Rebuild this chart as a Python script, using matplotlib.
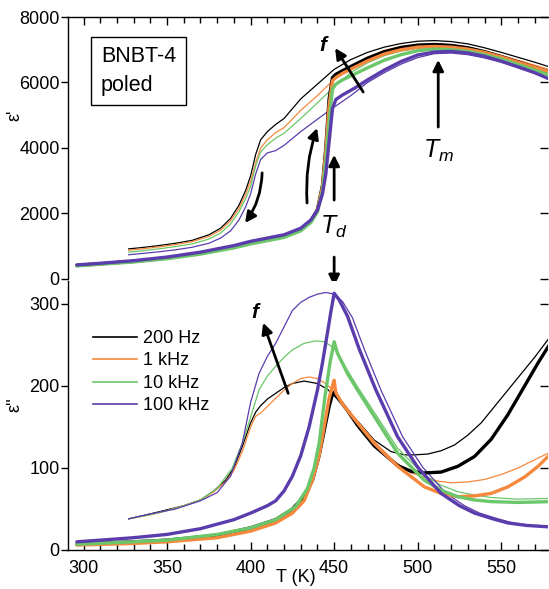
import numpy as np
import matplotlib.pyplot as plt
from matplotlib.ticker import MultipleLocator

plt.rcParams['font.family'] = ['Liberation Sans', 'DejaVu Sans']
plt.rcParams['mathtext.fontset'] = 'custom'
plt.rcParams['mathtext.it'] = 'Liberation Sans:italic'
plt.rcParams['mathtext.rm'] = 'Liberation Sans'

labels = ['200 Hz', '1 kHz', '10 kHz', '100 kHz']
colors = ['#000000', '#f5883c', '#6cc66a', '#5b3cac']

# ---- eps' : heating (thick) ----
t_heat1 = [296, 310, 330, 350, 370, 390, 400, 410, 420, 430, 436, 440, 443, 445, 447,
           449, 451, 455, 462, 470, 480, 490, 500, 510, 520, 530, 540, 550, 560, 570, 580]
e1_heat_100k = [430, 480, 560, 670, 820, 1020, 1150, 1250, 1350, 1550, 1800, 2100, 2600, 3200, 4200,
                5200, 5480, 5620, 5820, 6080, 6380, 6640, 6840, 6930, 6950, 6900, 6800, 6650, 6480, 6300, 6080]
e1_heat_10k = [400, 450, 520, 620, 760, 950, 1070, 1170, 1270, 1470, 1720, 2050, 2700, 3600, 4800,
               5800, 5950, 6080, 6250, 6450, 6680, 6850, 6970, 7020, 7000, 6950, 6850, 6720, 6550, 6380, 6200]
e1_heat_1k = [410, 460, 535, 640, 785, 980, 1100, 1200, 1300, 1500, 1750, 2100, 2800, 3900, 5300,
              6050, 6150, 6280, 6460, 6660, 6870, 7000, 7080, 7100, 7080, 7020, 6920, 6780, 6620, 6460, 6300]
e1_heat_200 = [415, 465, 540, 645, 790, 985, 1110, 1210, 1310, 1510, 1760, 2120, 2850, 4000, 5500,
               6150, 6250, 6360, 6540, 6740, 6940, 7070, 7140, 7160, 7130, 7060, 6940, 6790, 6630, 6460, 6300]

# ---- eps' : cooling (thin) ----
t_cool1 = [327, 335, 345, 355, 365, 375, 382, 388, 393, 397, 400, 403, 406, 410, 415, 420,
           430, 440, 450, 460, 470, 480, 490, 500, 510, 520, 530, 540, 550, 560, 570, 580]
e1_cool_200 = [920, 960, 1020, 1090, 1180, 1350, 1550, 1850, 2250, 2700, 3150, 3800, 4250, 4500, 4720, 4900,
               5500, 5950, 6400, 6700, 6920, 7080, 7190, 7260, 7280, 7250, 7180, 7060, 6920, 6770, 6620, 6460]
e1_cool_1k = [880, 920, 980, 1050, 1140, 1300, 1490, 1780, 2150, 2580, 2980, 3550, 4000, 4250, 4470, 4620,
              5150, 5600, 6100, 6500, 6780, 6980, 7100, 7170, 7190, 7160, 7090, 6970, 6830, 6680, 6530, 6380]
e1_cool_10k = [820, 860, 920, 990, 1070, 1220, 1400, 1680, 2050, 2450, 2820, 3450, 3880, 4100, 4300, 4450,
               4900, 5380, 5870, 6300, 6600, 6820, 6960, 7040, 7060, 7030, 6960, 6850, 6710, 6560, 6400, 6230]
e1_cool_100k = [740, 780, 830, 890, 970, 1090, 1250, 1470, 1800, 2200, 2600, 3200, 3650, 3850, 3920, 4080,
                4500, 4880, 5250, 5600, 6000, 6300, 6560, 6760, 6880, 6900, 6850, 6750, 6620, 6450, 6280, 6100]

# ---- eps'' : heating (thick) ----
t_h100k = [296, 310, 330, 350, 370, 390, 400, 410, 415, 420, 425, 430, 435, 440, 443, 446, 448, 450,
           453, 458, 465, 475, 488, 500, 514, 525, 534, 545, 554, 565, 580]
e2_h100k = [10, 12, 15, 19, 26, 37, 45, 54, 60, 72, 90, 115, 150, 195, 228, 265, 290, 313,
            305, 285, 245, 195, 138, 101, 69, 54, 45, 38, 33, 30, 28]
t_h10k = [296, 330, 350, 380, 400, 415, 427, 434, 438, 441, 444.5, 447.5, 450, 452, 458, 464,
          474, 488, 504, 514, 524, 534, 544, 560, 580]
e2_h10k = [7, 10, 12, 19, 27, 37, 53, 75, 100, 130, 187, 228, 254, 240, 215, 195,
           163, 118, 85, 73, 65, 61, 59, 58, 59]
t_h1k = [296, 330, 350, 380, 400, 415, 425, 432, 437, 441, 444, 447, 449, 450, 451, 455, 464,
         474, 488, 504, 514, 524, 534, 544, 554, 564, 572, 580]
e2_h1k = [6, 8, 10, 15, 23, 33, 45, 60, 85, 115, 150, 185, 200, 207, 192, 178, 155,
          130, 102, 77, 69, 65, 66, 69, 77, 89, 102, 118]
t_h200 = [296, 330, 350, 380, 400, 415, 425, 432, 437, 441, 444, 447, 449, 450, 452, 458, 464,
          474, 488, 496, 504, 514, 524, 534, 544, 554, 564, 572, 580]
e2_h200 = [7, 10, 12, 18, 27, 37, 50, 65, 85, 115, 145, 175, 190, 192, 186, 170, 152,
           127, 103, 96, 94, 95, 102, 114, 135, 165, 200, 228, 254]

# ---- eps'' : cooling (thin) ----
t_c200 = [327, 340, 350, 360, 370, 378, 385, 390, 395, 400, 403, 406, 410, 415, 420, 425, 432,
          440, 446, 452, 458, 465, 474, 484, 492, 498, 506, 514, 522, 530, 538, 546, 554, 562, 570, 580]
e2_c200 = [38, 44, 49, 54, 61, 72, 85, 100, 126, 155, 168, 176, 184, 191, 198, 203, 206,
           203, 196, 184, 170, 155, 134, 120, 116, 116, 117, 121, 128, 140, 155, 175, 195, 215, 235, 262]
t_c1k = [327, 340, 350, 360, 370, 378, 385, 390, 395, 400, 403, 406, 410, 415, 420, 425, 430, 435,
         440, 445, 450, 458, 466, 476, 486, 496, 504, 512, 520, 530, 540, 550, 560, 570, 580]
e2_c1k = [38, 43, 48, 54, 61, 71, 83, 97, 120, 150, 163, 167, 175, 185, 195, 203, 209, 211,
          209, 203, 193, 172, 152, 128, 108, 94, 89, 84, 82, 83, 86, 92, 100, 110, 120]
t_c10k = [327, 340, 350, 360, 370, 380, 389, 395, 400, 405, 410, 415, 420, 425, 432, 439, 444,
          448, 452, 458, 464, 474, 488, 504, 514, 524, 534, 544, 560, 580]
e2_c10k = [38, 43, 48, 54, 61, 75, 100, 130, 162, 195, 212, 224, 235, 244, 252, 255, 254,
           249, 241, 219, 199, 168, 124, 91, 79, 71, 67, 64, 62, 63]
t_c100k = [327, 340, 355, 370, 380, 388, 395, 400, 405, 410, 415, 420, 425, 430, 435, 440, 445,
           450, 455, 461, 468, 478, 491, 503, 517, 528, 537, 548, 557, 568, 580]
e2_c100k = [38, 44, 50, 60, 70, 90, 130, 180, 215, 236, 252, 272, 292, 302, 308, 312, 314,
            312, 303, 283, 245, 195, 138, 101, 69, 54, 45, 38, 33, 30, 29]

fig = plt.figure(figsize=(5.49, 5.89), dpi=100)
W, H = 549, 589
ax1 = fig.add_axes([68 / W, 1 - 279 / H, 480 / W, 262 / H])
ax2 = fig.add_axes([68 / W, 1 - 550 / H, 480 / W, 269 / H])

thin, thick = 0.9, 2.4

# cooling runs underneath, heating runs on top
for e, c in zip([e1_cool_200, e1_cool_1k, e1_cool_10k, e1_cool_100k], colors):
    ax1.plot(t_cool1, e, color=c, lw=thin)
for e, c in zip([e1_heat_200, e1_heat_1k, e1_heat_10k, e1_heat_100k], colors):
    ax1.plot(t_heat1, e, color=c, lw=thick, solid_capstyle='round')

for t, e, c in zip([t_c200, t_c1k, t_c10k, t_c100k], [e2_c200, e2_c1k, e2_c10k, e2_c100k], colors):
    ax2.plot(t, e, color=c, lw=thin)
for t, e, c in zip([t_h200, t_h1k, t_h10k, t_h100k], [e2_h200, e2_h1k, e2_h10k, e2_h100k], colors):
    ax2.plot(t, e, color=c, lw=thick, solid_capstyle='round')

ax1.set_ylim(0, 8000)
ax2.set_ylim(0, 328)

for ax, yt in ((ax1, [0, 2000, 4000, 6000, 8000]), (ax2, [0, 100, 200, 300])):
    ax.set_xlim(290.7, 578)
    ax.set_yticks(yt)
    ax.xaxis.set_major_locator(MultipleLocator(50))
    ax.xaxis.set_minor_locator(MultipleLocator(10))
    ax.spines['right'].set_visible(False)
    for s in ax.spines.values():
        s.set_linewidth(1.0)
    ax.tick_params(axis='y', direction='out', length=5, width=1, labelsize=13, pad=1)
    # inward ticks on the right edge
    tw = ax.twinx()
    tw.set_ylim(ax.get_ylim())
    tw.set_yticks(yt)
    tw.tick_params(axis='y', direction='in', length=6, width=1, labelright=False)
    for s in tw.spines.values():
        s.set_visible(False)

ax1.spines['bottom'].set_visible(False)
ax1.tick_params(axis='x', which='both', bottom=False, top=True, labelbottom=False, direction='in')
ax1.tick_params(axis='x', which='major', length=6, width=1)
ax1.tick_params(axis='x', which='minor', length=4, width=1)

ax2.spines['top'].set_visible(False)
ax2.tick_params(axis='x', which='both', bottom=True, top=False, direction='in', labelsize=13, pad=7)
ax2.tick_params(axis='x', which='major', length=6, width=1)
ax2.tick_params(axis='x', which='minor', length=4, width=1)

fig.text(15 / W, 1 - 115 / H, "ε'", rotation=90, fontsize=13, ha='center', va='center')
fig.text(15 / W, 1 - 405 / H, "ε''", rotation=90, fontsize=13, ha='center', va='center')
fig.text(296 / W, 1 - 578 / H, 'T (K)', fontsize=13, ha='center', va='center')

ax1.text((101 - 68) / 480, 1 - (71 - 17) / 262, 'BNBT-4\npoled', transform=ax1.transAxes,
         fontsize=15.5, ha='left', va='center', linespacing=1.45,
         bbox=dict(boxstyle='square,pad=0.45', fc='white', ec='black', lw=1))

arrow = dict(arrowstyle='-|>', color='black', lw=2, mutation_scale=16, shrinkA=0, shrinkB=0)

# frequency arrow, eps'
ax1.annotate('', xy=(450.6, 7050), xytext=(467.4, 5710), arrowprops=arrow)
ax1.text(443.4, 7140, 'f', fontsize=15, fontstyle='italic', fontweight='bold', ha='center', va='center')
# Tm
ax1.annotate('', xy=(512.3, 6690), xytext=(512.3, 4640), arrowprops=arrow)
ax1.text(512.3, 3900, r'$T_m$', fontsize=18, ha='center', va='center')
# cooling / heating arrows
ax1.annotate('', xy=(396.7, 1710), xytext=(406.9, 3240),
             arrowprops=dict(arrow, connectionstyle='arc3,rad=-0.15'))
ax1.annotate('', xy=(439.8, 4610), xytext=(433.8, 2320),
             arrowprops=dict(arrow, connectionstyle='arc3,rad=-0.1'))
# Td
ax1.annotate('', xy=(450, 3790), xytext=(450, 2410), arrowprops=arrow)
ax1.text(450, 1590, r'$T_d$', fontsize=18, ha='center', va='center')
ax1.annotate('', xy=(450, 322), xycoords=ax2.transData, xytext=(450, 670), textcoords='data',
             arrowprops=arrow, annotation_clip=False)

# frequency arrow, eps''
ax2.annotate('', xy=(407.5, 277), xytext=(422.5, 191), arrowprops=arrow)
ax2.text(402.7, 289, 'f', fontsize=15, fontstyle='italic', fontweight='bold', ha='center', va='center')

handles = [plt.Line2D([], [], color=c, lw=1.2) for c in colors]
ax2.legend(handles, labels, loc='upper left', bbox_to_anchor=(93 / W, 1 - 330 / H),
           bbox_transform=fig.transFigure, frameon=False, fontsize=13, borderpad=0,
           borderaxespad=0, handlelength=2.45, handletextpad=0.3, labelspacing=0.3)

fig.savefig('out.png', dpi=100)
